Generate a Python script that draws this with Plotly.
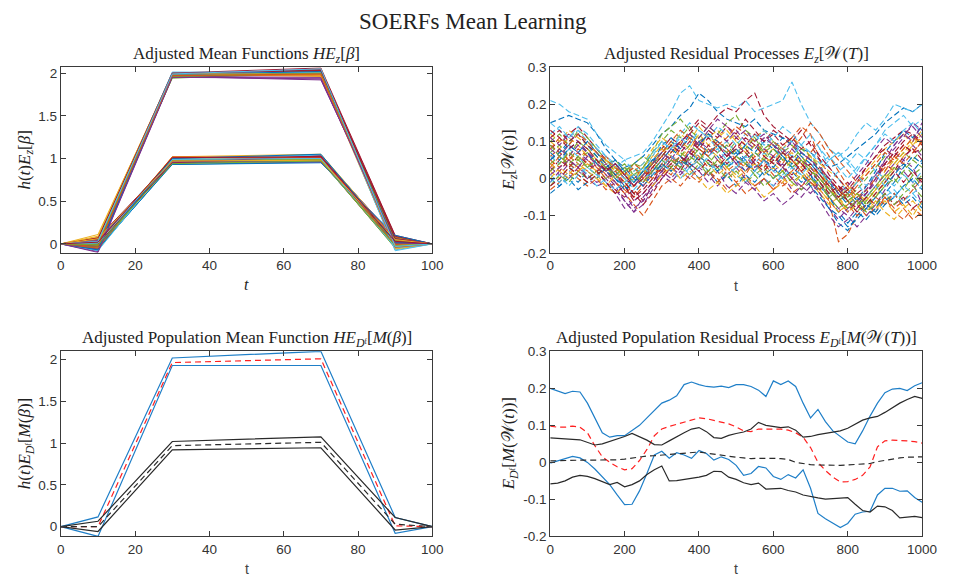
import plotly.graph_objects as go

# MATLAB default colour order
COLOR_ORDER = ["#0072BD", "#D95319", "#EDB120", "#7E2F8E", "#77AC30", "#4DBEEE", "#A2142F"]

# ---------------- adjusted mean functions (one pair of curves per sample) ----------------
T_MEAN = [0, 10, 30, 70, 90, 100]

MEAN_HIGH = [
    [0, 0.05, 1.99, 2.02, 0.03, 0], [0, 0.11, 1.98, 1.98, -0.02, 0], [0, -0.03, 1.95, 1.99, 0.05, 0],
    [0, 0.07, 2.00, 2.06, 0.10, 0], [0, 0.02, 1.97, 2.03, -0.04, 0], [0, -0.08, 1.96, 1.92, 0.06, 0],
    [0, 0.04, 2.01, 2.00, -0.07, 0], [0, -0.05, 1.98, 2.04, 0.01, 0], [0, 0.08, 1.99, 1.96, 0.04, 0],
    [0, 0.00, 1.94, 2.01, -0.03, 0], [0, 0.03, 2.00, 1.99, 0.08, 0], [0, -0.02, 1.97, 2.05, -0.01, 0],
    [0, -0.09, 1.96, 1.95, 0.03, 0], [0, 0.06, 1.99, 2.02, -0.05, 0], [0, 0.01, 1.98, 2.00, 0.02, 0],
    [0, 0.09, 2.00, 1.97, -0.06, 0], [0, -0.04, 1.95, 2.03, 0.07, 0], [0, 0.05, 1.99, 2.04, 0.09, 0],
    [0, -0.01, 1.97, 1.98, 0.00, 0], [0, -0.06, 1.96, 1.93, 0.05, 0], [0, 0.02, 2.01, 2.01, -0.08, 0],
    [0, -0.07, 1.98, 2.02, 0.02, 0], [0, 0.04, 1.99, 1.99, -0.02, 0], [0, 0.01, 1.96, 2.00, 0.04, 0],
    [0, 0.06, 2.00, 2.03, 0.06, 0], [0, -0.03, 1.97, 1.99, -0.04, 0], [0, -0.10, 1.95, 1.94, 0.01, 0],
    [0, 0.03, 1.99, 2.05, -0.03, 0],
]

MEAN_LOW = [
    [0, 0.03, 0.98, 1.00, 0.02, 0], [0, -0.02, 0.96, 0.99, -0.03, 0], [0, 0.05, 1.00, 1.04, 0.06, 0],
    [0, -0.05, 0.93, 0.96, 0.01, 0], [0, 0.01, 1.01, 1.02, -0.02, 0], [0, -0.07, 1.00, 0.98, 0.04, 0],
    [0, 0.06, 0.95, 0.97, -0.04, 0], [0, -0.03, 1.01, 1.01, 0.03, 0], [0, 0.02, 0.97, 1.03, 0.07, 0],
    [0, 0.04, 0.99, 0.96, -0.01, 0], [0, -0.06, 0.94, 1.00, 0.00, 0], [0, 0.00, 1.02, 1.05, 0.05, 0],
    [0, -0.04, 0.96, 0.98, -0.05, 0], [0, 0.07, 0.98, 1.01, 0.02, 0], [0, -0.01, 1.00, 0.97, 0.08, 0],
    [0, 0.03, 0.97, 1.02, -0.02, 0], [0, -0.08, 0.99, 1.04, 0.03, 0], [0, 0.05, 0.93, 0.95, 0.10, 0],
    [0, 0.02, 1.01, 1.00, -0.03, 0], [0, -0.02, 0.98, 0.99, 0.01, 0], [0, 0.00, 0.95, 1.03, 0.04, 0],
    [0, -0.05, 1.02, 1.01, -0.01, 0], [0, 0.04, 0.96, 0.96, 0.06, 0], [0, 0.01, 0.99, 1.00, -0.04, 0],
    [0, -0.03, 1.00, 1.05, 0.02, 0], [0, 0.06, 0.97, 0.98, 0.05, 0], [0, -0.01, 0.94, 0.97, -0.02, 0],
    [0, 0.02, 1.01, 1.02, 0.03, 0],
]

# ---------------- adjusted residual processes, sampled every 25 time steps ----------------
T_RES = list(range(0, 1001, 25))

RESIDUALS = [
    [.15, .16, .17, .16, .15, .12, .08, .05, .03, .04, .06, .09, .12, .14, .17, .19, .23, .21, .18, .16,
     .15, .14, .16, .13, .12, .11, .10, .08, .07, .05, .03, .04, .06, .08, .10, .12, .15, .17, .19, .18, .20],
    [.06, .08, .05, .07, .04, .02, .03, -.01, -.04, -.02, .01, .03, .02, .04, .06, .03, .05, .02, .04, .01,
     .03, .05, .02, .04, .06, .09, .11, .14, .12, .05, -.06, -.17, -.15, -.10, -.07, -.09, -.05, -.08, -.06, -.03, .00],
    [.10, .08, .11, .09, .06, .05, .02, .03, .00, .01, .03, .06, .09, .07, .10, .12, .09, .11, .08, .10,
     .07, .09, .06, .08, .05, .07, .04, .06, .03, .01, -.03, -.05, -.02, -.04, -.06, -.03, .02, .05, .08, .11, .09],
    [.03, .01, .04, .02, .00, -.02, -.01, -.04, -.08, -.06, -.04, -.01, .02, .00, .03, .05, .08, .06, .09, .07,
     .04, .06, .03, .05, .02, .04, .00, -.02, .01, -.03, -.01, -.06, -.09, -.06, -.04, -.01, .04, .07, .05, .09, .06],
    [.07, .09, .06, .10, .08, .06, .04, .05, .02, .04, .03, .07, .10, .13, .11, .14, .10, .12, .09, .07,
     .10, .08, .11, .07, .09, .06, .03, .05, .02, -.01, -.04, -.02, -.05, -.03, .00, .03, .06, .04, .07, .05, .08],
    [.21, .20, .18, .17, .16, .12, .09, .07, .05, .06, .07, .10, .14, .18, .23, .25, .21, .20, .19, .20,
     .19, .21, .18, .19, .20, .21, .26, .20, .15, .12, .08, .06, .08, .12, .15, .13, .16, .20, .19, .18, .20],
    [.08, .10, .12, .14, .11, .08, .05, .03, .00, -.02, .01, .05, .08, .11, .09, .13, .16, .14, .17, .19,
     .18, .21, .23, .17, .14, .12, .10, .13, .09, .05, .01, -.02, -.04, -.01, .03, .06, .09, .11, .13, .12, .10],
    [.00, -.02, .01, -.01, .02, .00, .03, .01, -.02, .00, .02, .05, .03, .06, .04, .07, .05, .08, .06, .03,
     .05, .02, .04, .01, .03, .00, .02, -.01, .01, -.04, -.08, -.12, -.14, -.10, -.07, -.09, -.06, -.04, -.07, -.05, -.08],
    [.05, .03, .06, .04, .02, .04, .01, -.01, -.03, -.05, -.02, .01, .03, .06, .04, .08, .06, .03, .05, .02,
     -.01, .01, -.02, .00, -.03, .00, .02, .05, .03, .00, -.03, -.06, -.09, -.07, -.10, -.08, -.05, -.09, -.11, -.08, -.10],
    [.12, .10, .13, .11, .09, .07, .04, .02, .03, .00, .02, .04, .07, .09, .12, .10, .14, .11, .13, .10,
     .12, .09, .11, .13, .10, .08, .11, .09, .06, .04, .02, .00, -.03, -.01, .02, .05, .08, .10, .12, .09, .11],
    [-.01, .02, .00, .03, .01, -.01, .00, -.03, -.06, -.09, -.05, -.02, .01, -.01, .02, .00, .03, .01, -.02, .01,
     .03, .00, -.03, .00, -.02, .01, -.03, -.05, -.02, -.06, -.10, -.13, -.11, -.08, -.05, -.02, .01, .04, .02, -.01, -.07],
    [.04, .06, .03, .05, .07, .04, .02, .04, .01, .03, .01, .04, .06, .09, .07, .05, .08, .06, .03, .05,
     .08, .06, .09, .07, .04, .07, .05, .08, .06, .03, -.01, -.04, -.06, -.04, -.07, -.04, -.01, .02, .04, .01, .03],
    [.15, .13, .11, .14, .12, .09, .06, .04, .02, .00, .03, .02, .05, .03, .06, .04, .07, .05, .02, .04,
     .01, -.01, .02, .00, -.02, .01, .04, .02, -.01, .02, .05, .07, .05, .02, .06, .09, .13, .15, .17, .14, .16],
    [.02, .05, .03, .06, .04, .02, -.01, -.03, -.05, -.03, -.06, -.02, .01, .04, .02, .06, .09, .12, .10, .08,
     .11, .09, .12, .10, .13, .11, .09, .07, .05, .02, .00, -.03, -.01, -.04, -.02, .01, .04, .02, .06, .08, .05],
    [.09, .07, .10, .12, .09, .06, .03, .05, .02, -.01, .01, .04, .09, .11, .08, .12, .10, .07, .09, .06,
     .08, .05, .07, .10, .08, .11, .09, .06, .04, .01, -.02, -.05, -.03, -.06, -.02, .02, .07, .10, .13, .11, .14],
    [-.03, -.01, .02, .00, -.02, .00, -.03, -.01, -.04, -.07, -.10, -.06, -.02, .00, -.02, .01, -.01, .02, .00, -.03,
     -.01, -.04, -.02, .00, -.03, -.01, -.04, -.02, .00, -.03, -.06, -.09, -.07, -.10, -.08, -.05, -.07, -.04, -.08, -.11, -.09],
    [.06, .04, .07, .05, .08, .05, .03, .00, .02, -.01, .01, .05, .08, .06, .10, .08, .12, .09, .11, .13,
     .10, .07, .09, .06, .08, .05, .07, .04, .06, .02, -.02, -.05, -.08, -.06, -.03, -.05, -.01, .03, .06, .09, .12],
    [.05, .08, .06, .09, .07, .03, .01, -.02, -.06, -.09, -.07, -.03, .00, .03, .01, .04, .02, -.01, .02, -.02,
     -.04, -.01, -.03, -.06, -.04, -.07, -.05, -.02, -.04, -.01, -.05, -.08, -.10, -.13, -.10, -.07, -.03, .01, .05, .03, -.02],
    [.10, .12, .09, .13, .11, .08, .05, .02, .04, .01, .03, .07, .12, .14, .16, .13, .11, .14, .12, .15,
     .17, .13, .11, .08, .10, .07, .09, .06, .03, -.01, -.05, -.08, -.06, -.09, -.06, -.03, .00, .03, .01, -.02, .01],
    [.01, -.01, .02, .04, .01, -.02, .00, .02, .00, -.03, .00, .02, .04, .02, .00, .03, .05, .02, .04, .01,
     .03, .06, .04, .07, .05, .08, .10, .07, .05, .08, .03, .00, -.04, -.01, -.05, -.02, -.05, -.03, -.06, -.04, -.07],
    [.11, .13, .10, .12, .09, .07, .04, .01, -.02, -.05, -.03, .00, .04, .07, .10, .12, .15, .13, .11, .14,
     .12, .16, .13, .10, .12, .09, .11, .08, .10, .06, .03, .00, -.03, -.06, -.04, .00, .04, .07, .10, .12, .09],
    [-.04, -.02, .00, -.03, -.01, .01, .03, .00, -.02, -.04, -.01, .02, .05, .08, .06, .03, .00, .02, -.01, .01,
     -.02, .01, -.01, .02, .00, .03, .06, .04, .01, -.02, -.05, -.09, -.12, -.09, -.11, -.08, -.04, -.01, .03, .06, .04],
    [.09, .07, .05, .08, .06, .04, .06, .03, .01, .04, .02, .00, .03, .01, .05, .03, .00, .02, -.01, .02,
     .04, .01, .05, .03, .06, .04, .08, .11, .15, .12, .08, .05, .02, -.01, .01, .04, .07, .05, .08, .11, .10],
    [.02, .00, .03, .01, -.01, .01, -.02, -.04, -.02, .00, .03, .01, .04, .02, .05, .03, .06, .04, .01, .03,
     .00, .02, .04, .01, .03, .00, -.02, .01, -.01, -.04, -.07, -.05, -.09, -.07, -.05, -.08, -.06, -.09, -.07, -.10, -.06],
    [.08, .06, .09, .07, .05, .02, .04, .01, -.01, .01, -.02, .02, .05, .08, .10, .12, .09, .13, .16, .14,
     .11, .13, .10, .12, .09, .06, .08, .05, .03, .00, -.03, -.06, -.04, -.07, -.04, .00, .05, .08, .11, .15, .13],
    [-.02, .01, -.01, .02, .00, .02, .00, .03, .01, -.01, .02, .04, .02, .05, .03, .01, .04, .02, .05, .03,
     .06, .04, .01, .03, .00, .02, -.01, .01, -.02, .00, -.03, -.06, -.04, -.07, -.05, -.02, .01, -.01, .02, .05, .03],
    [.06, .04, .08, .06, .03, .05, .02, .04, .01, -.01, .02, .06, .10, .08, .11, .09, .13, .11, .08, .10,
     .07, .09, .12, .09, .11, .14, .12, .09, .07, .04, .06, .03, .00, .03, .06, .09, .12, .10, .13, .15, .12],
    [.04, .02, .05, .03, .00, .02, -.01, -.04, -.02, -.06, -.04, -.01, .03, .06, .04, .07, .05, .09, .07, .04,
     .06, .08, .05, .03, .06, .03, .01, .04, .02, -.01, -.04, -.02, -.06, -.09, -.07, -.04, -.01, .02, -.01, .02, -.01],
    [.07, .05, .08, .10, .07, .04, .02, .00, -.03, -.01, .02, .05, .07, .10, .08, .11, .09, .12, .10, .08,
     .06, .09, .07, .05, .08, .06, .04, .07, .05, .02, -.01, -.04, -.07, -.05, -.08, -.05, -.02, .01, .04, .02, .05],
    [.03, .06, .04, .02, .05, .03, .00, .02, -.01, -.04, -.01, .03, .06, .04, .08, .11, .09, .07, .10, .08,
     .05, .03, .06, .04, .01, -.02, .00, .03, .07, .10, .06, .02, -.02, -.05, -.03, .00, .03, .06, .04, .07, .10],
    [.00, .03, .01, .04, .02, .00, -.02, .01, -.01, .02, .04, .08, .11, .09, .06, .08, .05, .08, .06, .03,
     .01, .04, .02, .06, .04, .02, .05, .03, .00, -.03, -.06, -.09, -.07, -.04, -.06, -.03, .00, .04, .07, .10, .13],
    [.11, .09, .12, .10, .07, .05, .02, -.01, -.04, -.08, -.06, -.02, .02, .05, .03, .07, .10, .08, .05, .07,
     .04, .02, .05, .08, .06, .03, .00, -.03, -.01, -.04, -.08, -.11, -.08, -.06, -.03, .01, .05, .09, .12, .14, .11],
    [.02, .04, .07, .05, .03, .01, .03, .00, .02, .04, .06, .04, .07, .05, .03, .06, .04, .01, .03, .00,
     .02, -.01, .01, -.02, .00, .02, -.01, -.03, .00, -.02, -.05, -.03, -.06, -.04, -.07, -.05, -.02, .00, -.03, .01, -.02],
    [.12, .14, .11, .13, .10, .08, .06, .03, .05, .02, .04, .07, .10, .08, .12, .15, .13, .11, .14, .12,
     .09, .12, .10, .13, .10, .08, .06, .09, .12, .08, .05, .07, .04, .07, .05, .02, .00, -.02, .01, -.01, .02],
    [-.02, .00, .03, .01, -.01, .01, .03, .01, -.01, -.04, -.07, -.04, .00, .03, .06, .04, .02, .05, .03, .06,
     .09, .07, .04, .02, .05, .03, .06, .04, .01, .03, .00, -.03, -.06, -.08, -.05, -.07, -.04, -.07, -.05, -.08, -.06],
    [.05, .07, .09, .07, .10, .07, .04, .01, .03, .00, -.02, .01, .04, .02, .05, .03, .06, .04, .02, .05,
     .07, .04, .02, .05, .03, .06, .03, .01, -.02, -.05, -.08, -.10, -.13, -.11, -.08, -.10, -.07, -.05, -.02, .00, -.03],
    [.08, .11, .09, .12, .10, .07, .05, .03, .01, .03, .00, .04, .07, .10, .13, .11, .08, .06, .09, .11,
     .14, .12, .10, .07, .10, .08, .05, .02, -.01, -.03, .00, -.03, -.05, -.02, .01, .04, .02, .06, .09, .07, .10],
    [.04, .02, .00, .02, .04, .02, .05, .03, .01, -.02, .00, -.02, .01, .03, .00, .02, .00, -.03, -.01, -.04,
     -.02, .00, -.02, -.05, -.03, -.01, .02, .00, .03, .01, -.02, -.05, -.03, -.06, -.09, -.06, -.09, -.11, -.08, -.06, -.09],
    [.01, .03, .05, .03, .06, .04, .02, .04, .01, -.02, .01, .04, .07, .05, .09, .07, .11, .14, .12, .10,
     .13, .10, .08, .11, .09, .07, .10, .07, .05, .03, .00, -.04, -.02, .01, .04, .08, .11, .09, .12, .10, .15],
    [.09, .06, .04, .06, .03, .05, .03, .01, .03, .01, -.01, .02, .05, .03, .06, .09, .07, .04, .07, .09,
     .06, .04, .07, .05, .08, .05, .03, .05, .02, .00, -.03, -.06, -.08, -.06, -.09, -.07, -.04, -.07, -.04, -.02, -.05],
    [-.01, .01, -.02, .01, .03, .01, -.01, -.03, -.01, .01, .03, .01, .03, .06, .04, .01, .03, .06, .08, .05,
     .03, .05, .02, .05, .02, .00, .03, .01, .04, .02, -.01, .02, .04, .01, -.02, .01, -.02, -.05, -.02, -.04, -.02],
    [.13, .11, .08, .10, .08, .05, .02, .04, .01, -.02, .00, .03, .06, .09, .07, .10, .08, .11, .09, .06,
     .08, .11, .09, .06, .04, .07, .05, .02, .04, .01, -.02, -.05, -.03, .00, .03, .06, .08, .06, .09, .07, .08],
]

# ---------------- population-level summaries ----------------
# population mean function (dashed) and its bounds (solid), high and low components
POP_HIGH_MEAN = [0, 0.00, 1.965, 2.01, 0.01, 0]
POP_HIGH_UPPER = [0, 0.117, 2.02, 2.10, 0.11, 0]
POP_HIGH_LOWER = [0, -0.117, 1.93, 1.93, -0.08, 0]
POP_LOW_MEAN = [0, 0.00, 0.97, 1.01, 0.03, 0]
POP_LOW_UPPER = [0, 0.065, 1.02, 1.075, 0.11, 0]
POP_LOW_LOWER = [0, -0.058, 0.92, 0.945, -0.04, 0]

# population residual process, sampled every 20 time steps
T_POP = list(range(0, 1001, 20))

RES_MEAN_RED = [0.098, 0.095, 0.095, 0.098, 0.095, 0.08, 0.045, 0.015, 0.0, -0.012, -0.02, -0.017, 0.005,
                0.035, 0.072, 0.09, 0.097, 0.103, 0.11, 0.116, 0.12, 0.118, 0.114, 0.11, 0.104, 0.096,
                0.085, 0.083, 0.09, 0.09, 0.09, 0.09, 0.087, 0.08, 0.068, 0.04, 0.0, -0.022, -0.04,
                -0.053, -0.052, -0.046, -0.035, -0.012, 0.042, 0.058, 0.06, 0.06, 0.058, 0.056, 0.052]
RES_UPPER_BLUE = [0.200, 0.193, 0.186, 0.192, 0.19, 0.16, 0.12, 0.08, 0.068, 0.072, 0.072, 0.085, 0.1,
                  0.12, 0.14, 0.16, 0.168, 0.18, 0.21, 0.217, 0.21, 0.205, 0.203, 0.206, 0.202, 0.21,
                  0.21, 0.205, 0.195, 0.178, 0.22, 0.21, 0.22, 0.205, 0.16, 0.12, 0.143, 0.11, 0.085,
                  0.07, 0.055, 0.05, 0.085, 0.125, 0.16, 0.188, 0.198, 0.2, 0.194, 0.207, 0.215]
RES_LOWER_BLUE = [-0.002, 0.004, 0.011, 0.016, 0.012, 0.0, -0.018, -0.038, -0.06, -0.088, -0.114, -0.113,
                  -0.077, -0.03, 0.02, 0.03, 0.011, 0.026, 0.02, 0.011, 0.032, 0.024, 0.006, 0.015, 0.008,
                  -0.008, -0.035, -0.03, -0.011, -0.015, -0.038, -0.046, -0.033, -0.042, -0.02, -0.07,
                  -0.138, -0.152, -0.165, -0.176, -0.165, -0.14, -0.134, -0.132, -0.088, -0.07, -0.07,
                  -0.078, -0.077, -0.095, -0.108]
RES_MEAN_BLACK = [0.004, 0.005, 0.006, 0.006, 0.006, 0.006, 0.006, 0.006, 0.006, 0.007, 0.009, 0.012,
                  0.015, 0.017, 0.018, 0.02, 0.022, 0.023, 0.024, 0.026, 0.028, 0.025, 0.022, 0.019,
                  0.016, 0.014, 0.012, 0.01, 0.011, 0.012, 0.011, 0.01, 0.008, 0.0, -0.004, -0.006,
                  -0.007, -0.008, -0.009, -0.008, -0.007, -0.005, -0.004, -0.003, 0.002, 0.006, 0.009,
                  0.012, 0.014, 0.015, 0.015]
RES_UPPER_BLACK = [0.066, 0.064, 0.062, 0.062, 0.061, 0.055, 0.047, 0.05, 0.056, 0.063, 0.07, 0.078, 0.07,
                   0.06, 0.048, 0.047, 0.058, 0.07, 0.08, 0.09, 0.094, 0.083, 0.067, 0.065, 0.073, 0.078,
                   0.082, 0.09, 0.108, 0.1, 0.097, 0.094, 0.096, 0.087, 0.068, 0.07, 0.075, 0.078, 0.081,
                   0.085, 0.092, 0.104, 0.114, 0.12, 0.124, 0.135, 0.148, 0.16, 0.17, 0.178, 0.173]
RES_LOWER_BLACK = [-0.058, -0.056, -0.05, -0.04, -0.035, -0.038, -0.044, -0.052, -0.06, -0.054, -0.066,
                   -0.06, -0.05, -0.033, -0.02, -0.01, -0.05, -0.049, -0.046, -0.044, -0.04, -0.035,
                   -0.024, -0.025, -0.04, -0.046, -0.055, -0.06, -0.056, -0.072, -0.072, -0.07, -0.076,
                   -0.08, -0.088, -0.093, -0.096, -0.099, -0.097, -0.095, -0.095, -0.113, -0.13, -0.134,
                   -0.118, -0.12, -0.13, -0.15, -0.148, -0.146, -0.149]

for series in RESIDUALS:
    assert len(series) == len(T_RES), len(series)
for series in (RES_MEAN_RED, RES_UPPER_BLUE, RES_LOWER_BLUE, RES_MEAN_BLACK, RES_UPPER_BLACK, RES_LOWER_BLACK):
    assert len(series) == len(T_POP), len(series)

# ---------------- tick labels ----------------
X_TICKS_MEAN = [0, 20, 40, 60, 80, 100]
X_TICKS_RES = [0, 200, 400, 600, 800, 1000]
Y_TICKS_MEAN = [0, 0.5, 1, 1.5, 2]
Y_TEXT_MEAN = ["0", "0.5", "1", "1.5", "2"]
Y_TICKS_RES = [-0.2, -0.1, 0, 0.1, 0.2, 0.3]
Y_TEXT_RES = ["-0.2", "-0.1", "0", "0.1", "0.2", "0.3"]

SERIF = "Liberation Serif, DejaVu Serif, serif"
SANS = "Liberation Sans, Arial, sans-serif"
AXIS_GREY = "#3a3a3a"
TICK_GREY = "#333333"
BLUE = "#1f7fc8"
RED = "#ff2020"
DARK = "#2a2a2a"

fig = go.Figure()

# top-left: adjusted mean functions
k = 0
for hi, lo in zip(MEAN_HIGH, MEAN_LOW):
    for ys in (hi, lo):
        fig.add_trace(go.Scatter(x=T_MEAN, y=ys, mode="lines", xaxis="x", yaxis="y",
                                 line=dict(color=COLOR_ORDER[k % 7], width=1)))
        k += 1

# top-right: adjusted residual processes
for i, ys in enumerate(RESIDUALS):
    fig.add_trace(go.Scatter(x=T_RES, y=ys, mode="lines", xaxis="x2", yaxis="y2",
                             line=dict(color=COLOR_ORDER[i % 7], width=1.1, dash="6px,3px")))

# bottom-left: population mean function with bounds
for ys, col, dash in [
    (POP_HIGH_UPPER, BLUE, "solid"), (POP_HIGH_LOWER, BLUE, "solid"), (POP_HIGH_MEAN, RED, "6px,4px"),
    (POP_LOW_UPPER, DARK, "solid"), (POP_LOW_LOWER, DARK, "solid"), (POP_LOW_MEAN, DARK, "6px,4px"),
]:
    fig.add_trace(go.Scatter(x=T_MEAN, y=ys, mode="lines", xaxis="x3", yaxis="y3",
                             line=dict(color=col, width=1.2, dash=dash)))

# bottom-right: population residual process with bounds
for ys, col, dash in [
    (RES_UPPER_BLUE, BLUE, "solid"), (RES_LOWER_BLUE, BLUE, "solid"), (RES_MEAN_RED, RED, "6px,4px"),
    (RES_UPPER_BLACK, DARK, "solid"), (RES_LOWER_BLACK, DARK, "solid"), (RES_MEAN_BLACK, DARK, "6px,4px"),
]:
    fig.add_trace(go.Scatter(x=T_POP, y=ys, mode="lines", xaxis="x4", yaxis="y4",
                             line=dict(color=col, width=1.2, dash=dash)))

W, H = 957, 588


def px_x(a, b):
    return [a / W, b / W]


def px_y(top, bottom):
    return [1 - bottom / H, 1 - top / H]


def axis_style(domain, rng, ticks, text, anchor):
    return dict(domain=domain, range=rng, tickvals=ticks, ticktext=text,
                anchor=anchor, showgrid=False, zeroline=False, showline=True, mirror="ticks",
                linecolor=AXIS_GREY, linewidth=1, ticks="inside", ticklen=5, tickcolor=AXIS_GREY,
                tickfont=dict(family=SANS, size=13.5, color=TICK_GREY), fixedrange=True)


LEFT = px_x(58, 437)
RIGHT = px_x(557.3, 936.7)
TOP = px_y(61.7, 252.3)
BOTTOM = px_y(353.3, 543.3)

fig.update_layout(
    width=W, height=H, margin=dict(l=0, r=0, t=0, b=0),
    paper_bgcolor="white", plot_bgcolor="white", showlegend=False,
    xaxis=axis_style(LEFT, [0, 100], X_TICKS_MEAN, [str(t) for t in X_TICKS_MEAN], "y"),
    yaxis=axis_style(TOP, [-0.105, 2.07], Y_TICKS_MEAN, Y_TEXT_MEAN, "x"),
    xaxis2=axis_style(RIGHT, [0, 1000], X_TICKS_RES, [str(t) for t in X_TICKS_RES], "y2"),
    yaxis2=axis_style(TOP, [-0.2, 0.3], Y_TICKS_RES, Y_TEXT_RES, "x2"),
    xaxis3=axis_style(LEFT, [0, 100], X_TICKS_MEAN, [str(t) for t in X_TICKS_MEAN], "y3"),
    yaxis3=axis_style(BOTTOM, [-0.117, 2.1], Y_TICKS_MEAN, Y_TEXT_MEAN, "x3"),
    xaxis4=axis_style(RIGHT, [0, 1000], X_TICKS_RES, [str(t) for t in X_TICKS_RES], "y4"),
    yaxis4=axis_style(BOTTOM, [-0.2, 0.3], Y_TICKS_RES, Y_TEXT_RES, "x4"),
)

W_SCRIPT = "𝒲"
D_F = "<i>D</i>ᶠ"


def label(text, x_px, y_px, size, angle=0, family=SERIF, color="#222222"):
    fig.add_annotation(text=text, x=x_px / W, y=1 - y_px / H, xref="paper", yref="paper",
                       showarrow=False, textangle=angle, xanchor="center", yanchor="middle",
                       font=dict(family=family, size=size, color=color))


label("SOERFs Mean Learning", 478.5, 15, 23)
label("Adjusted Mean Functions <i>HE</i><sub><i>z</i></sub>[<i>β</i>]", 247.5, 49, 17)
label(f"Adjusted Residual Processes <i>E</i><sub><i>z</i></sub>[{W_SCRIPT}(<i>T</i>)]", 747, 49, 17)
label(f"Adjusted Population Mean Function <i>HE</i><sub>{D_F}</sub>[<i>M</i>(<i>β</i>)]", 247.5, 341, 17)
label(f"Adjusted Population Residual Process <i>E</i><sub>{D_F}</sub>[<i>M</i>({W_SCRIPT}(<i>T</i>))]", 747, 341, 17)

label("<i>t</i>", 247.5, 285, 16)
label("t", 747, 286, 14, family=SANS, color="#444444")
label("t", 247.5, 577, 14, family=SANS, color="#444444")
label("t", 747, 577, 14, family=SANS, color="#444444")

label("<i>h</i>(<i>t</i>)<i>E</i><sub><i>z</i></sub>[<i>β</i>]", 22, 157, 17, angle=-90)
label(f"<i>E</i><sub><i>z</i></sub>[{W_SCRIPT}(<i>t</i>)]", 516, 157, 17, angle=-90)
label(f"<i>h</i>(<i>t</i>)<i>E</i><sub>{D_F}</sub>[<i>M</i>(<i>β</i>)]", 22, 448, 17, angle=-90)
label(f"<i>E</i><sub>{D_F}</sub>[<i>M</i>({W_SCRIPT}(<i>t</i>))]", 516, 448, 17, angle=-90)

fig.write_html("out.html")
